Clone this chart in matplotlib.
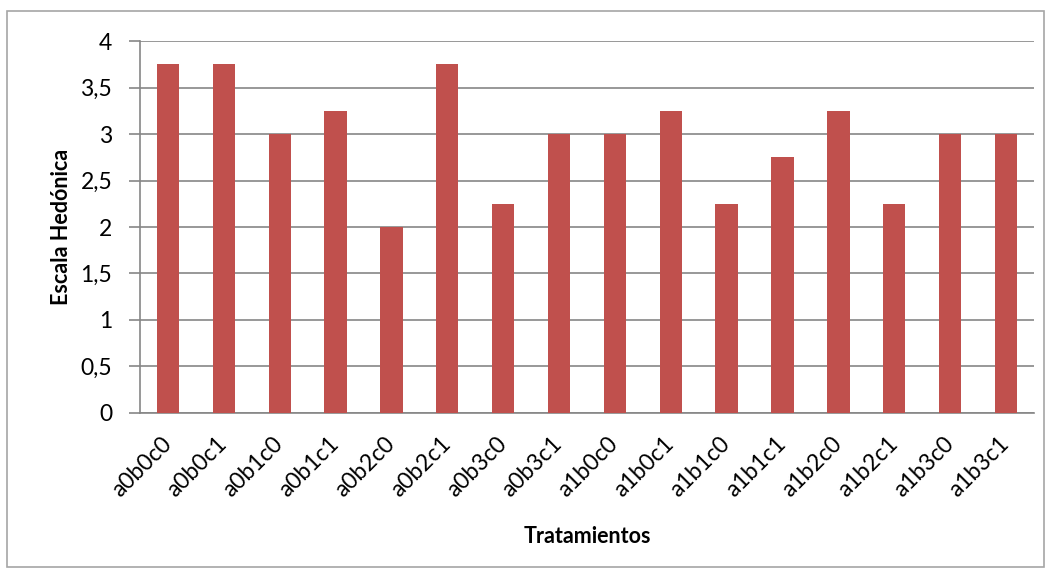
import numpy as np
import matplotlib.pyplot as plt
from matplotlib.patches import Rectangle

# Hedonic scale score per treatment
tratamientos = ['a0b0c0', 'a0b0c1', 'a0b1c0', 'a0b1c1', 'a0b2c0', 'a0b2c1', 'a0b3c0', 'a0b3c1',
                'a1b0c0', 'a1b0c1', 'a1b1c0', 'a1b1c1', 'a1b2c0', 'a1b2c1', 'a1b3c0', 'a1b3c1']
escala = [3.75, 3.75, 3.0, 3.25, 2.0, 3.75, 2.25, 3.0,
          3.0, 3.25, 2.25, 2.75, 3.25, 2.25, 3.0, 3.0]
yticks = [0, 0.5, 1, 1.5, 2, 2.5, 3, 3.5, 4]
ytick_labels = ['0', '0,5', '1', '1,5', '2', '2,5', '3', '3,5', '4']

plt.rcParams['font.family'] = ['Lato', 'DejaVu Sans']

fig = plt.figure(figsize=(10.51, 5.76), dpi=100)
ax = fig.add_axes([0.1332, 0.283, 0.8506, 0.6458])

x = np.arange(len(tratamientos))
ax.bar(x, escala, width=0.4, color='#C0504D', zorder=3)

ax.set_xlim(-0.5, len(tratamientos) - 0.5)
ax.set_ylim(0, 4)
ax.set_yticks(yticks)
ax.set_yticklabels(ytick_labels, fontsize=16.5)
ax.set_xticks(x)
ax.set_xticklabels(tratamientos, rotation=45, ha='right', va='center',
                   rotation_mode='anchor', fontsize=16.5)
ax.tick_params(axis='x', length=0, pad=20)
ax.tick_params(axis='y', length=8, width=1.2, color='#868686', pad=12)

ax.grid(axis='y', color='#868686', linewidth=1.2, zorder=0)
for side in ['top', 'right']:
    ax.spines[side].set_visible(False)
for side in ['left', 'bottom']:
    ax.spines[side].set_color('#868686')
    ax.spines[side].set_linewidth(1.2)

ax.set_ylabel('Escala Hedónica', fontsize=15.5, fontweight='bold', labelpad=6)
ax.set_xlabel('Tratamientos', fontsize=15.5, fontweight='bold', labelpad=18)

# light frame round the whole chart
fig.patches.append(Rectangle((7 / 1051, 1 - 567 / 576), 1037 / 1051, 556 / 576,
                             transform=fig.transFigure, fill=False,
                             edgecolor='#A6A6A6', linewidth=1.2))

fig.savefig('out.png', dpi=100)
